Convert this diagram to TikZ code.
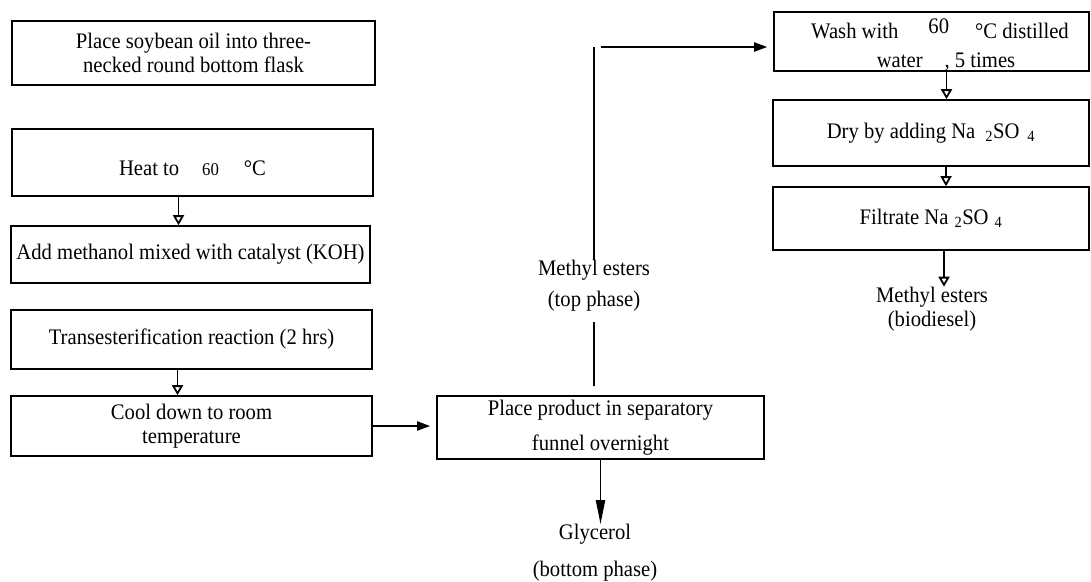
\documentclass[tikz,border=0pt]{standalone}
\usepackage{fontspec}
\setmainfont{Liberation Serif}[FakeStretch=0.93]
\usetikzlibrary{arrows.meta}
\tikzset{
  box/.style={rectangle, draw, line width=1.6pt, inner sep=0pt, align=center, font=\fontsize{22.2}{24}\selectfont},
  note/.style={inner sep=0pt, align=center, font=\fontsize{22.2}{24}\selectfont},
  plain/.style={line width=1.6pt},
  arrow/.style={-{Triangle[length=13pt, width=9pt]}, line width=1.9pt},
  longarrow/.style={-{Triangle[length=24pt, width=9pt]}, line width=1.9pt},
  smallarrow/.style={-{Triangle[open, length=10pt, width=11pt]}, line width=1.8pt},
}

\begin{document}
\begin{tikzpicture}[x=1pt, y=-1pt]
    \useasboundingbox (0,0) rectangle (1091,581);
    % left column
    \node[box, minimum width=363pt, minimum height=64pt] (oil) at (193.5,53) {Place soybean oil into three-\\necked round bottom flask};
    \node[box, minimum width=361pt, minimum height=67pt] (heat) at (192.5,162.5) {\rule{0pt}{26pt}Heat to\hspace{23pt}{\fontsize{18}{20}\selectfont 60}\hspace{25pt}°C};
    \node[box, minimum width=359pt, minimum height=57pt] (meoh) at (190.5,254.5) {Add methanol mixed with catalyst (KOH)};
    \node[box, minimum width=361pt, minimum height=59pt] (trans) at (191.5,339.5) {Transesterification reaction (2 hrs)};
    \node[box, minimum width=361pt, minimum height=60pt] (cool) at (191.5,426) {Cool down to room\\temperature};
    % separation
    \node[box, minimum width=327pt, minimum height=63pt] (sep) at (600.5,427.5) {Place product in separatory\\[11pt]funnel overnight};
    \node[note] (glyc) at (595,553) {Glycerol\\[13pt](bottom phase)};
    \node[note] (top) at (594,286) {Methyl esters\\[7pt](top phase)};
    \coordinate (turn) at (594,47);
    % right column
    \node[box, minimum width=315pt, minimum height=57pt] (wash) at (931.5,41.5) {\rule{0pt}{27pt}\hspace*{17pt}Wash with\hspace{30pt}\raisebox{5pt}{60}\hspace{26pt}°C distilled\\[5pt]\hspace*{29pt}water\hspace{22pt}, 5 times};
    \node[box, minimum width=316pt, minimum height=66pt] (dry) at (931,133) {Dry by adding Na\hspace{10pt}\textsubscript{2}SO\hspace{8pt}\textsubscript{4}};
    \node[box, minimum width=316pt, minimum height=63pt] (filt) at (931,218.5) {Filtrate Na\hspace{6pt}\textsubscript{2}SO\hspace{6pt}\textsubscript{4}};
    \node[note] (bio) at (932,309) {Methyl esters\\(biodiesel)};

    \draw[smallarrow] ([xshift=-14pt]heat.south) -- ([xshift=-14pt]heat.south |- meoh.north);
    \draw[smallarrow] ([xshift=-14pt]trans.south) -- ([xshift=-14pt]trans.south |- cool.north);
    \draw[arrow, shorten >=6pt] (cool.east) -- (sep.west |- cool.east);
    \draw[longarrow] (sep.south) -- (sep.south |- glyc.north);
    \draw[plain, shorten <=9pt, shorten >=10pt] (sep.north -| top) -- (top.south);
    \draw[plain] (top.north) -- (turn);
    \draw[arrow, shorten <=7pt, shorten >=6pt] (turn) -- (wash.west |- turn);
    \draw[smallarrow] ([xshift=15pt]wash.south) -- ([xshift=15pt]wash.south |- dry.north);
    \draw[smallarrow] ([xshift=15pt]dry.south) -- ([xshift=15pt]dry.south |- filt.north);
    \draw[smallarrow] ([xshift=13pt]filt.south) -- ([xshift=13pt]filt.south |- bio.north);
\end{tikzpicture}
\end{document}
